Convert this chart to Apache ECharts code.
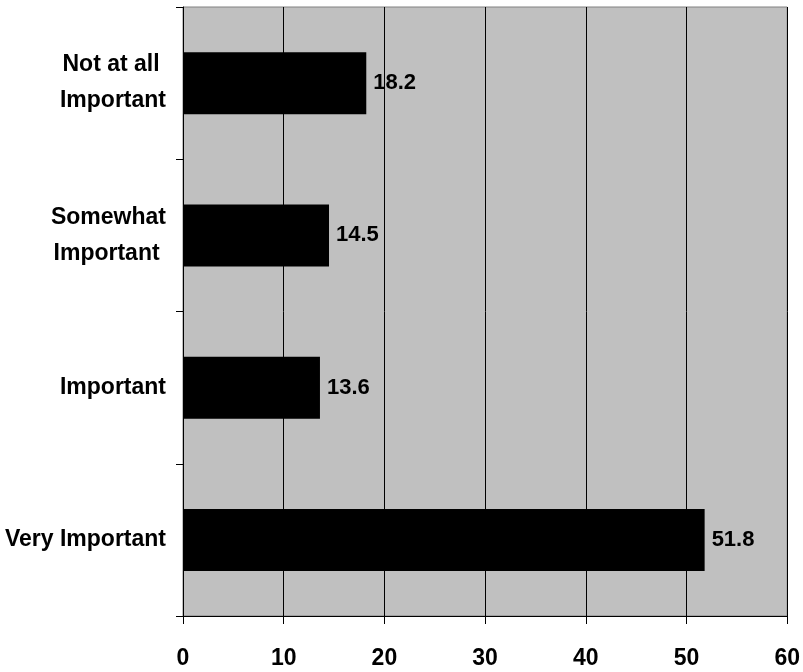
<!DOCTYPE html>
<html><head><meta charset="utf-8">
<script src="https://cdn.jsdelivr.net/npm/echarts@6/dist/echarts.min.js"></script>
<style>html,body{margin:0;padding:0;background:#fff}#c{width:803px;height:672px}</style>
</head><body><div id="c"></div>
<script>
var categories = ['Very Important', 'Important', 'Somewhat\nImportant ', 'Not at all \nImportant'];
var values = [51.8, 13.6, 14.5, 18.2];
var xTicks = [0, 10, 20, 30, 40, 50, 60];
var FONT = '"Liberation Sans", Arial, sans-serif';
var chart = echarts.init(document.getElementById('c'));
chart.setOption({
  animation: false,
  backgroundColor: '#ffffff',
  grid: { left: 183, top: 7, width: 608, height: 609, containLabel: false,
          show: true, backgroundColor: '#c0c0c0', borderColor: '#808080', borderWidth: 1 },
  xAxis: {
    type: 'value', min: 0, max: 60, interval: 10,
    axisLine: { show: true, lineStyle: { color: '#000', width: 1 } },
    axisTick: { show: true, length: 8, lineStyle: { color: '#000' } },
    axisLabel: { margin: 31, color: '#000', fontFamily: FONT, fontWeight: 'bold', fontSize: 23 },
    splitLine: { show: true, lineStyle: { color: '#000', width: 1 } }
  },
  yAxis: {
    type: 'category', data: categories,
    axisLine: { show: true, lineStyle: { color: '#000', width: 1 } },
    axisTick: { show: true, length: 7, alignWithLabel: false, lineStyle: { color: '#000' } },
    axisLabel: { margin: 17, color: '#000', fontFamily: FONT, fontWeight: 'bold', fontSize: 23, lineHeight: 36, align: 'right' }
  },
  series: [{
    type: 'bar', data: values, barWidth: 62,
    itemStyle: { color: '#000' },
    label: { show: true, position: 'right', distance: 7, color: '#000', fontFamily: FONT, fontWeight: 'bold', fontSize: 22,
             formatter: function(p){ return p.value.toFixed(1); } }
  }]
});
</script></body></html>
